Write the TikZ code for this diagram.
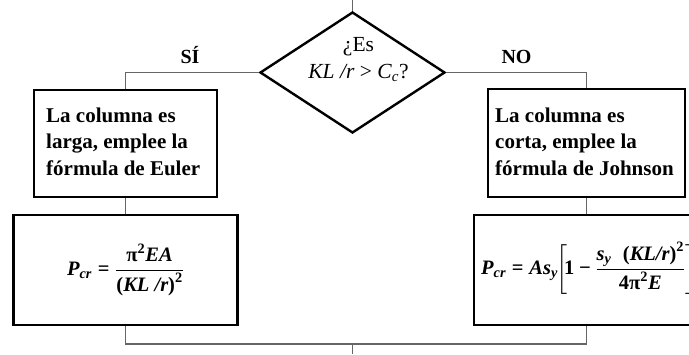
\documentclass[tikz,border=0pt]{standalone}
\usepackage{amsmath}
\usepackage{fontspec}
\setmainfont{Liberation Serif}
\usetikzlibrary{shapes.geometric}
% bold / bold-italic text pieces inside formulas
\newcommand{\mbi}[1]{\text{\bfseries\itshape #1}}
\newcommand{\mbf}[1]{\text{\bfseries #1}}
\begin{document}
\begin{tikzpicture}[x=1pt,y=-1pt,
  box/.style={draw=black, line width=2.7pt, rectangle, inner sep=0pt},
  conn/.style={draw=black!60, line width=1.4pt},
  txt/.style={font=\fontsize{21}{26.5}\selectfont\bfseries, align=left, inner sep=0pt},
  lab/.style={font=\fontsize{20}{24}\selectfont\bfseries, inner sep=0pt},
  fml/.style={font=\fontsize{20.5}{24}\selectfont, inner sep=0pt}]
\useasboundingbox (0,0) rectangle (689,354);
\clip (0,0) rectangle (689,354);

% decision
\node[diamond, draw=black, line width=2.4pt, minimum width=185pt, minimum height=121pt,
      inner sep=0pt, aspect=1.53] (dec) at (352.5,72.5) {};
% (base anchor of a multi-line node sits on its last line)
\node[font=\fontsize{21.5}{27}\selectfont, align=center, inner sep=0pt, anchor=base]
  (q) at (358.5,78) {¿Es\\\textit{KL /r} > \textit{C}\textsubscript{\textit{c}}?};

% branch labels
\node[lab, anchor=base] (si) at (190,63) {SÍ};
\node[lab, anchor=base] (no) at (516.5,63) {NO};

% statement boxes
\node[box, minimum width=183pt, minimum height=107pt] (b1) at (125.5,143.5) {};
\node[txt, anchor=base west] (t1) at (46,175) {La columna es\\larga, emplee la\\fórmula de Euler};
\node[box, minimum width=197pt, minimum height=108pt] (b2) at (586.5,143) {};
\node[txt, anchor=base west] (t2) at (495,175) {La columna es\\corta, emplee la\\fórmula de Johnson};

% formula boxes
\node[box, fml, minimum width=224pt, minimum height=110pt] (f1) at (125.5,270)
  {$\mbi{P}_{\mbi{cr}} \mathrel{\mbf{=}} \dfrac{\mbf{π}^{\mbf{2}}\mbi{EA}}{\mbf{(}\mbi{KL /r}\mbf{)}^{\mbf{2}}}$};
\node[box, minimum width=225pt, minimum height=110pt] (f2) at (586.5,270) {};
\node[fml, anchor=west] (e2) at (481,268)
  {$\mbi{P}_{\mbi{cr}} \mathrel{\mbf{=}} \mbi{As}_{\mbi{y}}\mkern-4mu\left[\mkern-3mu\mbf{1}\mathbin{\mbf{−}}\dfrac{\mbi{s}_{\mbi{y}}\;\;\mbf{(}\mbi{KL/r}\mbf{)}^{\mbf{2}}}{\hspace{12pt}\mbf{4π}^{\mbf{2}}\mbi{E}\hspace{12pt}}\right]$};

% connectors
\coordinate (in) at (352.5,0);
\coordinate (join) at (352.5,344);
\coordinate (out) at (352.5,354);
\draw[conn] (in) -- (dec.north);
\draw[conn] (dec.west) -| (b1.north);
\draw[conn] (dec.east) -| (b2.north);
\draw[conn] (b1.south) -- (f1.north);
\draw[conn] (b2.south) -- (f2.north);
\draw[conn] (f1.south) |- (join) -| (f2.south);
\draw[conn] (join) -- (out);
\end{tikzpicture}
\end{document}
